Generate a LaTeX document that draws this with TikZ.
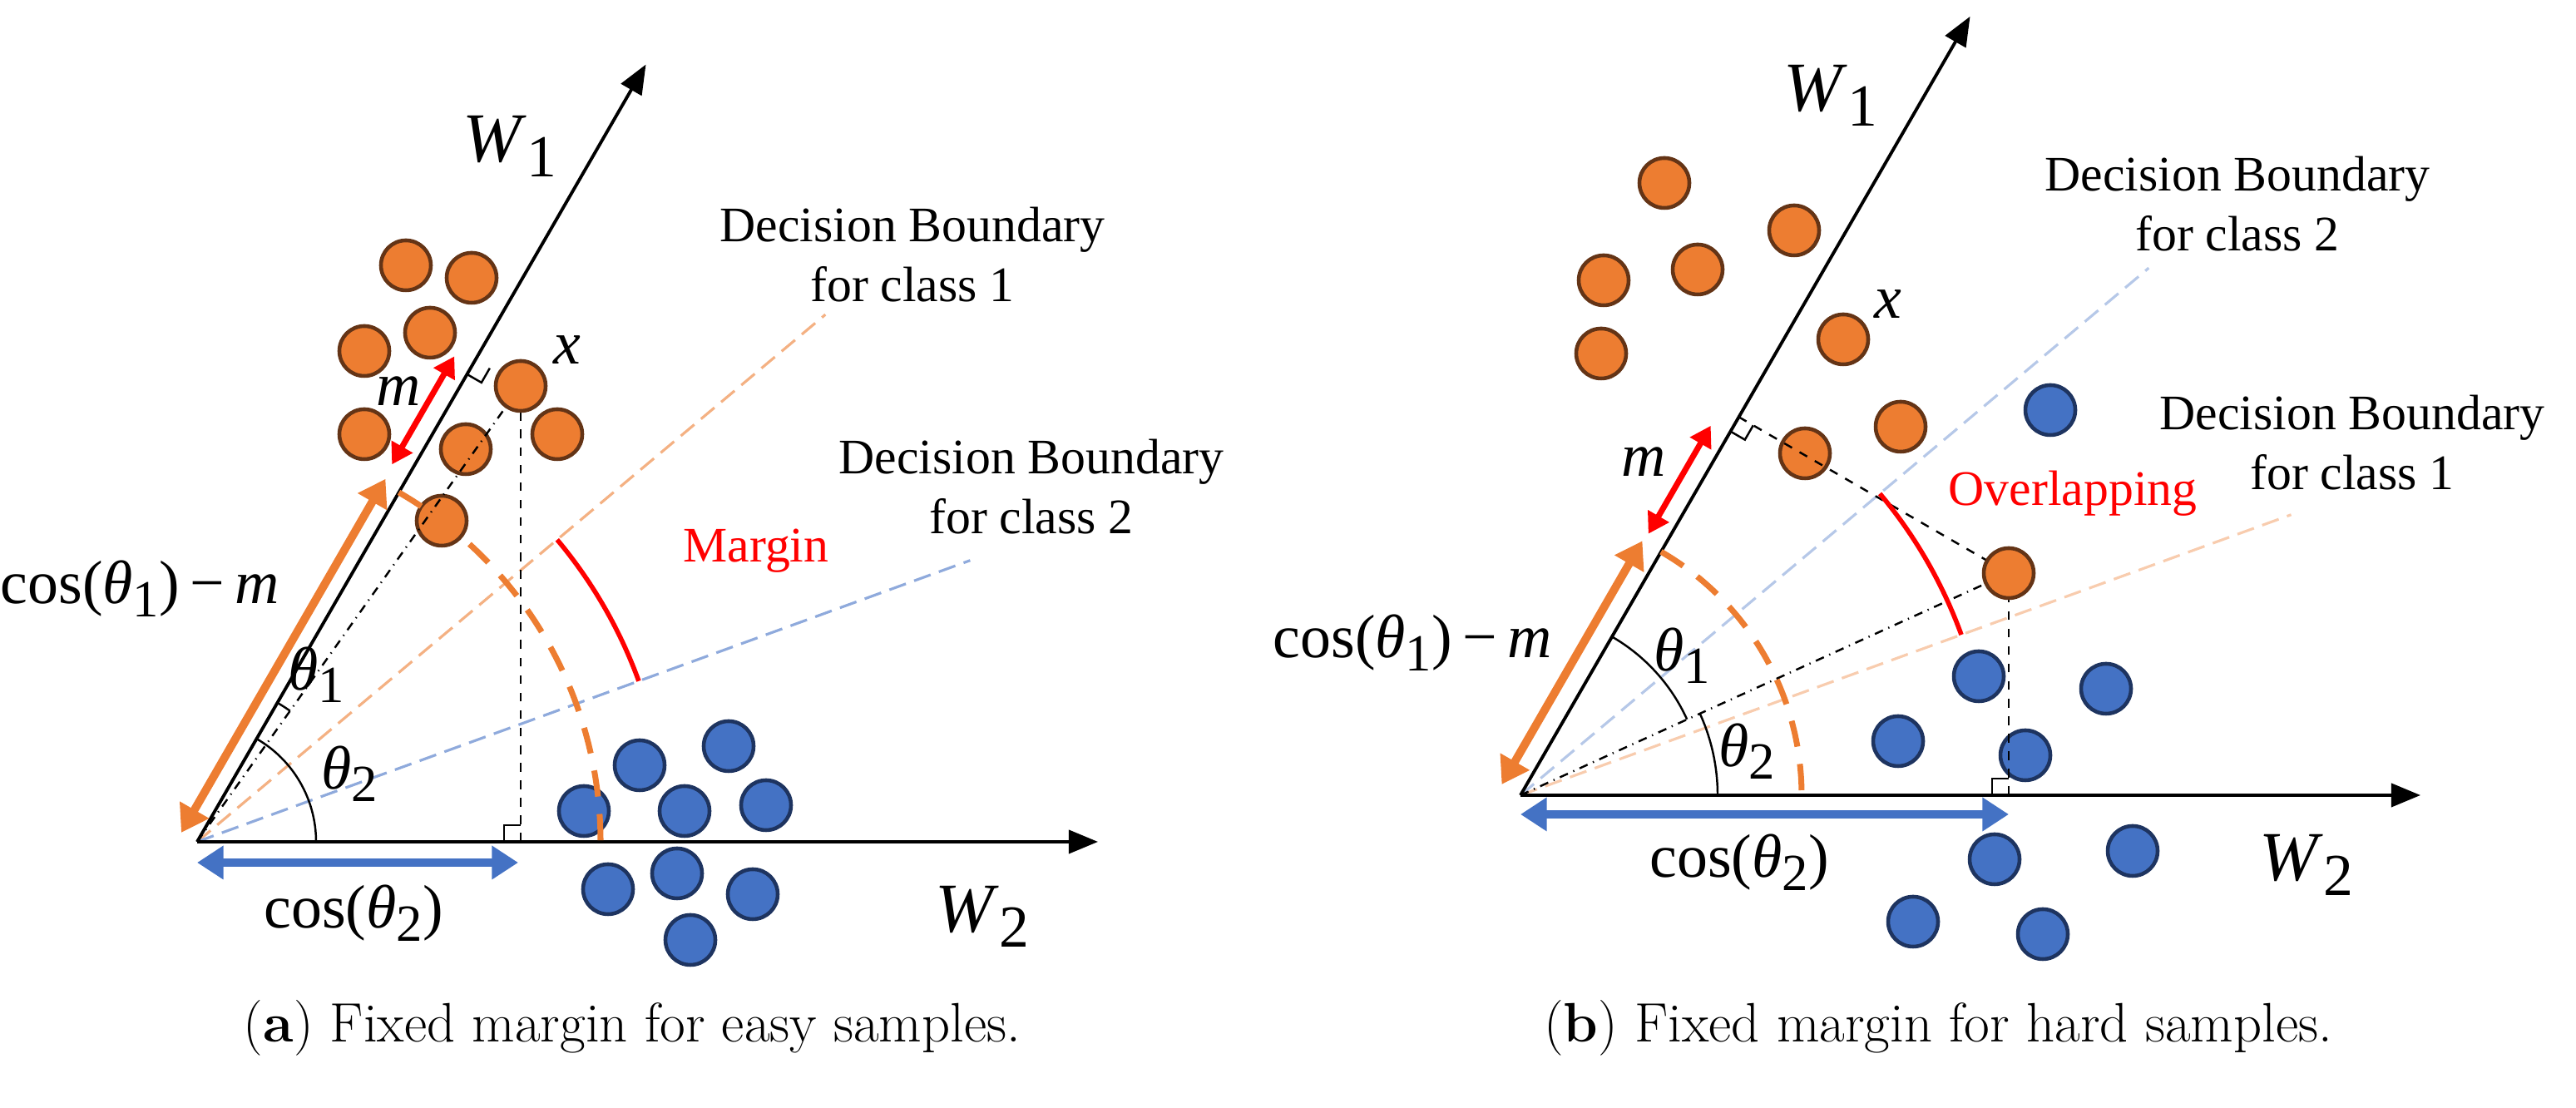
\documentclass[tikz,border=0pt]{standalone}
\usepackage{fontspec}
\newfontfamily\tnr{Liberation Serif}
\usetikzlibrary{arrows.meta,calc}
\definecolor{colororange}  {RGB}{237,125,49}
\definecolor{colorbrown}   {RGB}{100,52,22}
\definecolor{colorblue}    {RGB}{68,114,196}
\definecolor{colornavy}    {RGB}{30,52,96}
\definecolor{colorlorange} {RGB}{244,177,131}
\definecolor{colorlblue}   {RGB}{143,170,220}
\newcommand\lsub[1]{\raisebox{-0.45ex}{\scalebox{0.85}{#1}}}

\begin{document}
\begin{tikzpicture}[
    font={\tnr\fontsize{17}{20.5}\selectfont},
    txt/.style={align=center,inner sep=0pt},
    wlabel/.style={inner sep=0pt,font={\tnr\fontsize{24}{28}\selectfont}},
    glabel/.style={inner sep=0pt,font={\tnr\fontsize{21}{24}\selectfont}},
    captxt/.style={inner sep=0pt,font={\fontsize{19}{22}\selectfont}},
    axis/.style={line width=1.1pt,-{Triangle[length=10pt,width=8pt]}},
    bound/.style={line width=0.9pt,dashed,dash pattern=on 6pt off 3pt},
    opoint/.style={circle,minimum size=0.6cm,inner sep=0pt,fill=colororange,draw=colorbrown,line width=1.3pt},
    bpoint/.style={circle,minimum size=0.6cm,inner sep=0pt,fill=colorblue,draw=colornavy,line width=1.3pt},
    thickarrow/.style={line width=2.8pt,{Triangle[length=9pt,width=11pt]}-{Triangle[length=9pt,width=11pt]}},
    marrow/.style={line width=2pt,red,{Triangle[length=7pt,width=8pt]}-{Triangle[length=7pt,width=8pt]}},
]
\useasboundingbox (0,0) rectangle (30.97,13.32);

% ---------------- Panel (a)
\begin{scope}[shift={(2.37,3.20)}]
    \coordinate (oa) at (0,0);
    \coordinate (w2a) at (10.83,0);
    \coordinate (w1a) at (60:10.79);
    \coordinate (bd1a) at (40:9.86);
    \coordinate (bd2a) at (20:9.89);
    \coordinate (fta) at (60:6.69);
    \coordinate (fva) at (3.89,0);

    % Boundaries
    \draw[bound,colorlorange] (oa) -- (bd1a);
    \draw[bound,colorlblue] (oa) -- (bd2a);

    % Points
    \foreach \p [count=\i] in {(2.51,6.93),(3.30,6.78),(2.80,6.12),(2.01,5.90),(2.01,4.90),(3.23,4.72),(4.33,4.90),(2.94,3.86)}
        \node[opoint] (oa\i) at \p {};
    \foreach \p [count=\i] in {(5.32,0.92),(6.39,1.15),(4.65,0.37),(5.86,0.37),(6.84,0.44),(4.94,-0.57),(5.77,-0.38),(6.68,-0.63),(5.93,-1.18)}
        \node[bpoint] (ba\i) at \p {};

    % Projections
    \draw[dash dot,line width=0.7pt] (oa) -- (3.89,5.48);
    \draw[dashed,line width=0.7pt] (fva) -- (3.89,5.48);
    \draw[line width=0.7pt] ($(fta)+(240:0.2)$) -- ++(-30:0.2) -- ++(60:0.2);
    \draw[line width=0.7pt] ($(fva)+(-0.2,0)$) -- ++(0,0.2) -- ++(0.2,0);
    \node[opoint] (xa) at (3.89,5.48) {};

    % Axes
    \draw[axis] (oa) -- (w2a);
    \draw[axis] (oa) -- (w1a);

    % Arcs
    \draw[line width=0.7pt] (0:1.43) arc (0:60:1.43);
    \draw[line width=0.7pt] (54.6:1.93) arc (54.6:60:1.93);
    \draw[colororange,line width=2pt,dashed,dash pattern=on 9pt off 6pt] (60:4.85) arc (60:0:4.85);
    \draw[red,line width=1.6pt] (40:5.65) arc (40:20:5.65);

    % Arrows
    \coordinate (ca1) at ($(oa)+(150:0.22)$);
    \coordinate (ca2) at ($(60:4.91)+(150:0.22)$);
    \draw[thickarrow,colororange] (ca1) -- (ca2);
    \coordinate (ma1) at ($(60:5.10)+(150:0.24)$);
    \coordinate (ma2) at ($(60:6.60)+(150:0.24)$);
    \draw[marrow] (ma1) -- (ma2);
    \coordinate (cb1) at (0,-0.25);
    \coordinate (cb2) at (3.86,-0.25);
    \draw[thickarrow,colorblue] (cb1) -- (cb2);

    % Labels
    \node[wlabel] (lw1a) at (3.76,8.36) {\textit{W}\lsub{1}};
    \node[wlabel] (lw2a) at (9.44,-0.90) {\textit{W}\lsub{2}};
    \node[txt] (lbd1a) at (8.60,7.06) {Decision Boundary\\for class 1};
    \node[txt] (lbd2a) at (10.03,4.27) {Decision Boundary\\for class 2};
    \node[txt,red] (lmargin) at (6.72,3.50) {Margin};
    \node[glabel] (lxa) at (4.45,5.91) {\textit{x}};
    \node[glabel] (lma) at (2.42,5.42) {\textit{m}};
    \node[glabel] (lcma) at (-0.69,3.04) {cos(\textit{θ}\lsub{1})\,−\,\textit{m}};
    \node[glabel] (lt1a) at (1.43,2.01) {\textit{θ}\lsub{1}};
    \node[glabel] (lt2a) at (1.83,0.82) {\textit{θ}\lsub{2}};
    \node[glabel] (lcta) at (1.88,-0.86) {cos(\textit{θ}\lsub{2})};
\end{scope}

% ---------------- Panel (b)
\begin{scope}[shift={(18.28,3.76)}]
    \coordinate (ob) at (0,0);
    \coordinate (w2b) at (10.82,0);
    \coordinate (w1b) at (60:10.81);
    \coordinate (bd2b) at (40:9.86);
    \coordinate (bd1b) at (20:9.86);
    \coordinate (ftb) at (60:5.25);
    \coordinate (fvb) at (5.87,0);

    % Boundaries
    \draw[bound,colorlblue!65] (ob) -- (bd2b);
    \draw[bound,colorlorange!65] (ob) -- (bd1b);

    % Points
    \foreach \p [count=\i] in {(1.73,7.36),(3.29,6.79),(1.00,6.19),(2.13,6.32),(0.97,5.31),(3.88,5.48),(3.42,4.11),(4.57,4.43)}
        \node[opoint] (ob\i) at \p {};
    \foreach \p [count=\i] in {(6.37,4.63),(5.51,1.43),(7.04,1.28),(4.54,0.65),(6.07,0.48),(5.70,-0.77),(7.36,-0.67),(4.72,-1.52),(6.28,-1.67)}
        \node[bpoint] (bb\i) at \p {};

    % Projections
    \draw[dash dot,line width=0.7pt] (ob) -- (5.87,2.67);
    \draw[dashed,line width=0.7pt] (fvb) -- (5.87,2.67);
    \draw[dashed,line width=0.7pt] (ftb) -- (5.87,2.67);
    \draw[line width=0.7pt] ($(ftb)+(240:0.2)$) -- ++(-30:0.2) -- ++(60:0.2);
    \draw[line width=0.7pt] ($(fvb)+(-0.2,0)$) -- ++(0,0.2) -- ++(0.2,0);
    \node[opoint] (xb) at (5.87,2.67) {};

    % Axes
    \draw[axis] (ob) -- (w2b);
    \draw[axis] (ob) -- (w1b);

    % Arcs
    \draw[line width=0.7pt] (0:2.37) arc (0:24.5:2.37);
    \draw[line width=0.7pt] (24.5:2.2) arc (24.5:60:2.2);
    \draw[colororange,line width=2pt,dashed,dash pattern=on 9pt off 6pt] (60:3.38) arc (60:0:3.38);
    \draw[red,line width=1.6pt] (40:5.64) arc (40:20:5.64);

    % Arrows
    \coordinate (cc1) at ($(ob)+(150:0.26)$);
    \coordinate (cc2) at ($(60:3.38)+(150:0.26)$);
    \draw[thickarrow,colororange] (cc1) -- (cc2);
    \coordinate (mb1) at ($(60:3.49)+(150:0.24)$);
    \coordinate (mb2) at ($(60:4.99)+(150:0.24)$);
    \draw[marrow] (mb1) -- (mb2);
    \coordinate (cd1) at (0,-0.23);
    \coordinate (cd2) at (5.87,-0.23);
    \draw[thickarrow,colorblue] (cd1) -- (cd2);

    % Labels
    \node[wlabel] (lw1b) at (3.73,8.41) {\textit{W}\lsub{1}};
    \node[wlabel] (lw2b) at (9.45,-0.84) {\textit{W}\lsub{2}};
    \node[txt] (lbd2b) at (8.62,7.11) {Decision Boundary\\for class 2};
    \node[txt] (lbd1b) at (10.00,4.24) {Decision Boundary\\for class 1};
    \node[txt,red] (loverlap) at (6.64,3.63) {Overlapping};
    \node[glabel] (lxb) at (4.42,5.90) {\textit{x}};
    \node[glabel] (lmb) at (1.48,4.01) {\textit{m}};
    \node[glabel] (lcmb) at (-1.30,1.83) {cos(\textit{θ}\lsub{1})\,−\,\textit{m}};
    \node[glabel] (lt1b) at (1.94,1.68) {\textit{θ}\lsub{1}};
    \node[glabel] (lt2b) at (2.72,0.53) {\textit{θ}\lsub{2}};
    \node[glabel] (lctb) at (2.63,-0.81) {cos(\textit{θ}\lsub{2})};
\end{scope}

% Captions
\node[captxt] (capa) at (7.60,0.96) {(\textbf{a}) Fixed margin for easy samples.};
\node[captxt] (capb) at (23.30,0.96) {(\textbf{b}) Fixed margin for hard samples.};
\end{tikzpicture}
\end{document}
